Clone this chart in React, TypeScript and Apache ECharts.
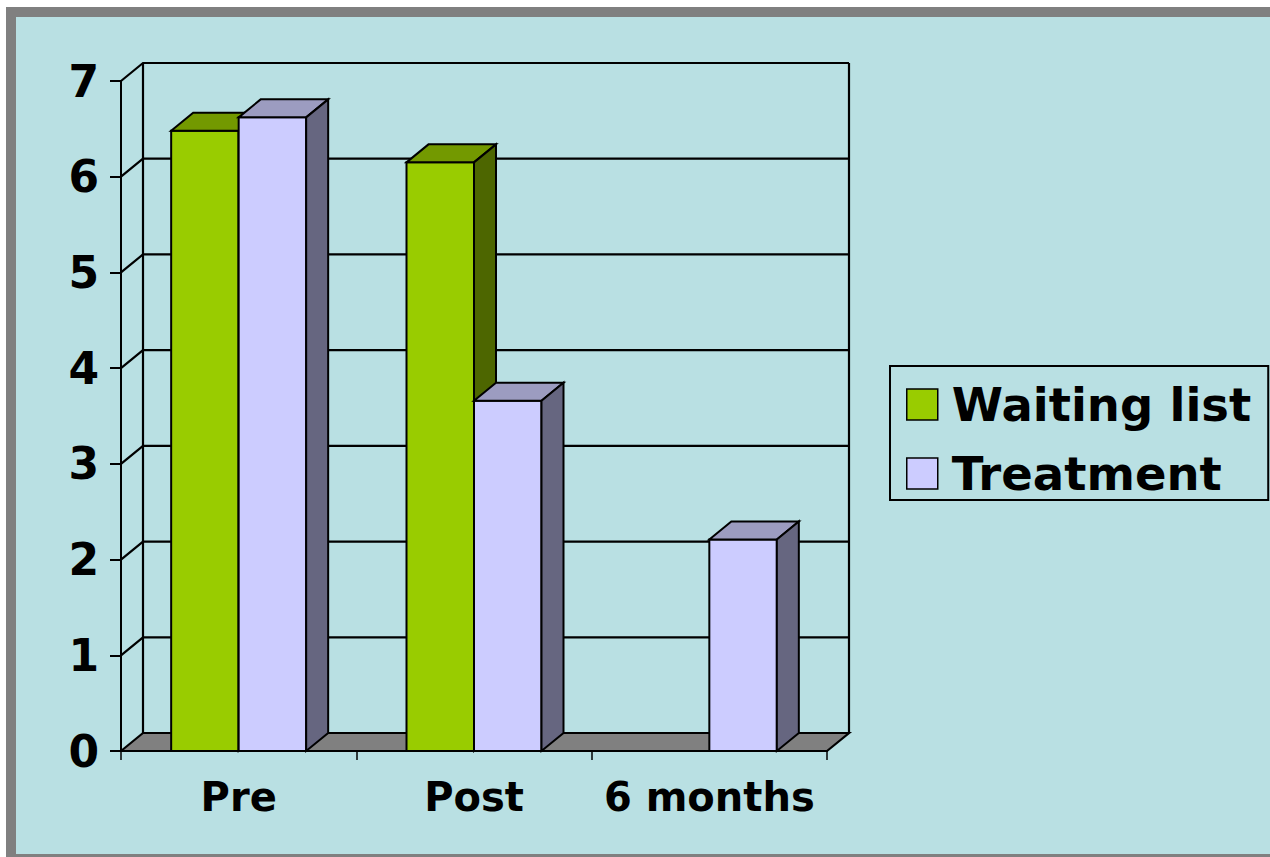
import React, { useEffect, useRef } from "react";
import * as echarts from "echarts";

const categories = ["Pre", "Post", "6 months"];
const waitingList = [6.48, 6.15, 0];
const treatment = [6.62, 3.66, 2.21];
const yTicks = [0, 1, 2, 3, 4, 5, 6, 7];

const FONT = "'DejaVu Sans', Verdana, sans-serif";
const DX = 22;
const DY = 18;
const BAR_W = 67.5;

const COLORS = [
  { front: "#99CC00", top: "#739900", side: "#4D6600" },
  { front: "#CCCCFF", top: "#9C9CC0", side: "#666680" },
];

function barRenderer(seriesIdx: number) {
  return (params: any, api: any) => {
    const cat = api.value(0);
    const v = api.value(1);
    if (!v) return { type: "group", children: [] };
    const [cx, y0] = api.coord([cat, 0]);
    const [, y1] = api.coord([cat, v]);
    const x0 = cx + (seriesIdx === 0 ? -BAR_W : 0);
    const x1 = x0 + BAR_W;
    const c = COLORS[seriesIdx];
    const stroke = { stroke: "#000", lineWidth: 2, lineJoin: "miter" };
    return {
      type: "group",
      children: [
        {
          type: "polygon",
          shape: { points: [[x0, y1], [x1, y1], [x1, y0], [x0, y0]] },
          style: { fill: c.front, ...stroke },
        },
        {
          type: "polygon",
          shape: { points: [[x0, y1], [x0 + DX, y1 - DY], [x1 + DX, y1 - DY], [x1, y1]] },
          style: { fill: c.top, ...stroke },
        },
        {
          type: "polygon",
          shape: { points: [[x1, y1], [x1 + DX, y1 - DY], [x1 + DX, y0 - DY], [x1, y0]] },
          style: { fill: c.side, ...stroke },
        },
      ],
    };
  };
}

function wallRenderer(params: any, api: any) {
  const v = api.value(1);
  const cs = params.coordSys;
  const left = cs.x;
  const right = cs.x + cs.width;
  const [, y] = api.coord([0, v]);
  const children: any[] = [];
  const ls = { stroke: "#000", lineWidth: 2.2 };
  if (v === 0) {
    children.push({
      type: "polygon",
      shape: { points: [[left, y], [left + DX, y - DY], [right + DX, y - DY], [right, y]] },
      style: { fill: "#808080", ...ls },
    });
    const [, yTop] = api.coord([0, yTicks[yTicks.length - 1]]);
    children.push({
      type: "line",
      shape: { x1: left + DX, y1: yTop - DY, x2: left + DX, y2: y - DY },
      style: ls,
    });
    children.push({
      type: "line",
      shape: { x1: right + DX, y1: yTop - DY, x2: right + DX, y2: y - DY },
      style: ls,
    });
  } else {
    children.push({
      type: "polyline",
      shape: { points: [[left, y], [left + DX, y - DY], [right + DX, y - DY]] },
      style: { ...ls, fill: "none" },
    });
  }
  return { type: "group", children };
}

export default function App() {
  const ref = useRef<HTMLDivElement>(null);
  useEffect(() => {
    document.body.style.margin = "0";
    const chart = echarts.init(ref.current!, null, { renderer: "svg" });
    chart.setOption({
      animation: false,
      backgroundColor: "#ffffff",
      graphic: [
        { type: "rect", z: -10, silent: true, shape: { x: 6, y: 7, width: 1264, height: 850 }, style: { fill: "#808080" } },
        { type: "rect", z: -9, silent: true, shape: { x: 16, y: 17, width: 1254, height: 837 }, style: { fill: "#B9E0E3" } },
      ],
      grid: { left: 121, top: 81, width: 706, height: 670 },
      legend: {
        orient: "vertical",
        left: 890,
        top: 366,
        icon: "rect",
        itemWidth: 31,
        itemHeight: 31,
        itemGap: 22,
        padding: [15, 17, 3, 16],
        borderColor: "#000",
        borderWidth: 2,
        backgroundColor: "#B9E0E3",
        itemStyle: { borderColor: "#000", borderWidth: 1.5 },
        textStyle: { fontFamily: FONT, fontWeight: "bold", fontSize: 46.5, color: "#000", padding: [0, 0, 0, 9] },
        data: ["Waiting list", "Treatment"],
      },
      xAxis: {
        type: "category",
        data: categories,
        boundaryGap: true,
        axisLine: { show: true, lineStyle: { color: "#000", width: 2 } },
        axisTick: { show: true, interval: 0, length: 9, lineStyle: { color: "#000", width: 1.5 } },
        axisLabel: { interval: 0, fontFamily: FONT, fontWeight: "bold", fontSize: 40, color: "#000", margin: 26 },
        splitLine: { show: false },
      },
      yAxis: {
        type: "value",
        min: 0,
        max: 7,
        interval: 1,
        axisLine: { show: true, lineStyle: { color: "#000", width: 2 } },
        axisTick: { show: true, length: 11, lineStyle: { color: "#000", width: 2 } },
        axisLabel: { fontFamily: FONT, fontWeight: "bold", fontSize: 44, color: "#000", margin: 22 },
        splitLine: { show: false },
      },
      series: [
        {
          name: "walls",
          type: "custom",
          renderItem: wallRenderer,
          data: yTicks.map((t) => [0, t]),
          encode: { x: 0, y: 1 },
          silent: true,
          z: 1,
        },
        {
          name: "Waiting list",
          type: "custom",
          renderItem: barRenderer(0),
          data: waitingList.map((v, i) => [i, v]),
          encode: { x: 0, y: 1 },
          itemStyle: { color: COLORS[0].front },
          z: 3,
        },
        {
          name: "Treatment",
          type: "custom",
          renderItem: barRenderer(1),
          data: treatment.map((v, i) => [i, v]),
          encode: { x: 0, y: 1 },
          itemStyle: { color: COLORS[1].front },
          z: 4,
        },
      ],
    });
    return () => chart.dispose();
  }, []);
  return <div ref={ref} style={{ width: 1270, height: 857 }} />;
}
